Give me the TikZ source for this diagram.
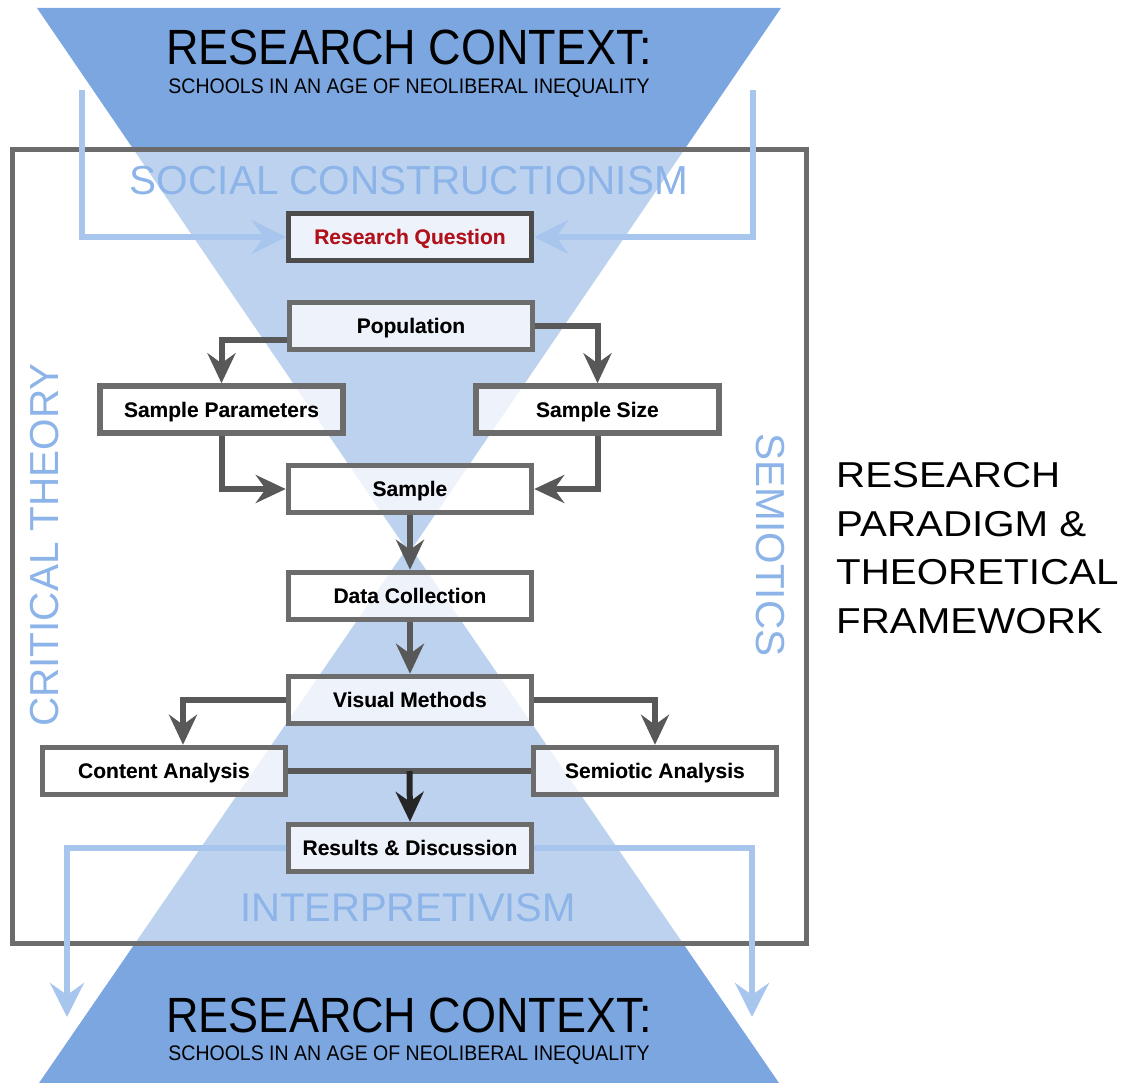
\documentclass[tikz,border=0pt]{standalone}
\usepackage{fontspec}
\setmainfont{Liberation Sans}
\usetikzlibrary{arrows.meta,calc}

\definecolor{ctxblue}{RGB}{123,166,224}
\definecolor{paletext}{RGB}{140,180,232}
\definecolor{feedback}{RGB}{168,197,238}
\definecolor{boxline}{RGB}{108,108,108}
\definecolor{flowline}{RGB}{88,88,88}
\definecolor{rqred}{RGB}{176,18,27}

\begin{document}
\begin{tikzpicture}[x=1pt,y=-1pt,
  box/.style={draw=boxline, line width=5.5pt, fill=white, fill opacity=0.5,
    text opacity=1, minimum width=243pt, minimum height=47pt, inner sep=0pt,
    font=\fontsize{21}{24}\selectfont\bfseries, text height=15pt, text depth=0pt},
  flow/.style={draw=flowline, line width=6pt,
    -{Stealth[length=30pt,width=28pt,inset=10pt]}},
  joinline/.style={draw=flowline, line width=6pt},
  loopback/.style={draw=feedback, line width=6pt,
    -{Stealth[length=34pt,width=34pt,inset=12pt]}},
  paradigm/.style={text=paletext, inner sep=0pt, font=\fontsize{40.5}{48}\selectfont},
  context/.style={inner sep=0pt, font=\fontsize{45}{54}\selectfont},
  contextsub/.style={inner sep=0pt, font=\fontsize{19.5}{22}\selectfont},
]
\useasboundingbox (0,0) rectangle (1129,1083);

% hourglass of the research context
\fill[ctxblue] (37,8) -- (781,8) -- (409,553) -- cycle;
\fill[ctxblue] (39,1083) -- (779,1083) -- (409,545) -- cycle;

% paradigm frame, washing out the hourglass inside it
\fill[white, fill opacity=0.5] (12,150) rectangle (806,943);
\draw[boxline, line width=5pt] (12,150) rectangle (806,943);

% paradigm labels
\node[paradigm] (sc) at (409,181) {SOCIAL CONSTRUCTIONISM};
\node[paradigm, font=\fontsize{40}{48}\selectfont] (ip) at (408,908) {INTERPRETIVISM};
\node[paradigm, rotate=90] (ct) at (45,545) {CRITICAL THEORY};
\node[paradigm, rotate=-90] (se) at (770,545) {SEMIOTICS};

% context labels
\node[context] (ctxtop) at (409,47) {\scalebox{1}[1.1]{RESEARCH CONTEXT:}};
\node[contextsub] (subtop) at (409,88) {\scalebox{1}[1.08]{SCHOOLS IN AN AGE OF NEOLIBERAL INEQUALITY}};
\node[context] (ctxbot) at (409,1015) {\scalebox{1}[1.1]{RESEARCH CONTEXT:}};
\node[contextsub] (subbot) at (409,1055) {\scalebox{1}[1.08]{SCHOOLS IN AN AGE OF NEOLIBERAL INEQUALITY}};

% side title
\node[anchor=west, align=left, inner sep=0pt,
  font=\fontsize{36}{48.5}\selectfont] (side) at (836,548)
  {\scalebox{1.12}[1]{RESEARCH}\\\scalebox{1.12}[1]{PARADIGM \&}\\
   \scalebox{1.12}[1]{THEORETICAL}\\\scalebox{1.12}[1]{FRAMEWORK}};

% process boxes
\node[box, draw=black!70, text=rqred] (rq) at (410,237) {Research Question};
\node[box] (pop) at (411,326) {Population};
\node[box] (sp)  at (221.5,409.5) {Sample Parameters};
\node[box] (ss)  at (597.5,409.5) {Sample Size};
\node[box] (sam) at (410,489) {Sample};
\node[box] (dc)  at (410,596) {Data Collection};
\node[box] (vm)  at (410,700) {Visual Methods};
\node[box] (ca)  at (164,771) {Content Analysis};
\node[box] (sa)  at (655,771) {Semiotic Analysis};
\node[box] (rd)  at (410,848) {Results \& Discussion};

% feedback loops from and to the research context
\coordinate (ltop) at (82,90);
\coordinate (rtop) at (753,90);
\coordinate (lbot) at (67,1017);
\coordinate (rbot) at (752,1017);
\draw[loopback] (ltop) |- (rq.west);
\draw[loopback] (rtop) |- (rq.east);
\draw[loopback] (rd.west) -| (lbot);
\draw[loopback] (rd.east) -| (rbot);

% process flow
\draw[flow] ([yshift=-14pt]pop.west) -| (sp.north);
\draw[flow] (pop.east) -| (ss.north);
\draw[flow] (sp.south) |- (sam.west);
\draw[flow] (ss.south) |- (sam.east);
\draw[flow] (sam.south) -- (dc.north);
\draw[flow] (dc.south) -- (vm.north);
\draw[flow] (vm.west) -| ([xshift=19pt]ca.north);
\draw[flow] (vm.east) -| (sa.north);
\draw[joinline] (ca.east) -- (sa.west);
\coordinate (merge) at ($(ca.east)!0.5!(sa.west)$);
\draw[flow, draw=black!85] (merge) -- (rd.north);

% redraw boxes on top of the connectors
\node[box, draw=black!70, text=rqred] at (rq) {Research Question};
\node[box] at (pop) {Population};
\node[box] at (sp) {Sample Parameters};
\node[box] at (ss) {Sample Size};
\node[box] at (sam) {Sample};
\node[box] at (dc) {Data Collection};
\node[box] at (vm) {Visual Methods};
\node[box] at (ca) {Content Analysis};
\node[box] at (sa) {Semiotic Analysis};
\node[box] at (rd) {Results \& Discussion};
\end{tikzpicture}
\end{document}
